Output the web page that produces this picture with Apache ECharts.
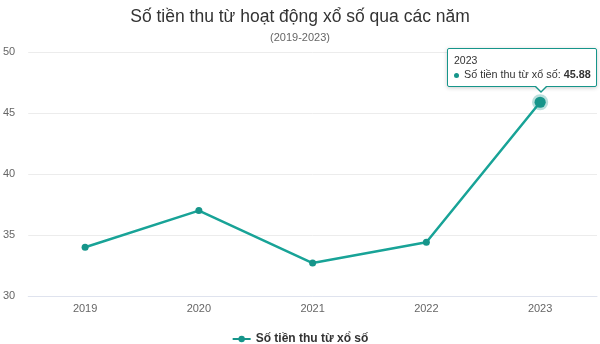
<!DOCTYPE html>
<html><head><meta charset="utf-8">
<script src="https://cdn.jsdelivr.net/npm/echarts@6/dist/echarts.min.js"></script>
<style>html,body{margin:0;padding:0;background:#fff}#c{width:600px;height:344px}</style>
</head><body><div id="c"></div>
<script>
const categories = ['2019','2020','2021','2022','2023'];
const values = [34.0, 37.0, 32.7, 34.4, 45.88];
const seriesName = 'Số tiền thu từ xổ số';
const yTicks = [30, 35, 40, 45, 50];

const color = '#16958a';
const chart = echarts.init(document.getElementById('c'), null, {renderer: 'canvas'});
chart.setOption({
  animation: false,
  textStyle: {fontFamily: 'Arial, "Liberation Sans", sans-serif'},
  title: {
    text: 'Số tiền thu từ hoạt động xổ số qua các năm',
    subtext: '(2019-2023)',
    left: 'center', top: 3,
    itemGap: 6,
    textStyle: {fontSize: 17.5, fontWeight: 'normal', color: '#333'},
    subtextStyle: {fontSize: 11, color: '#666'}
  },
  grid: {left: 27, right: 3, top: 52, bottom: 48},
  tooltip: {
    trigger: 'item',
    alwaysShowContent: true,
    backgroundColor: '#fff',
    borderColor: color,
    borderWidth: 1,
    padding: [5, 6],
    extraCssText: 'box-shadow:0 1px 4px rgba(0,0,0,0.2);border-radius:2px;overflow:visible;width:136px;',
    position: function (pt, params, dom, rect, size) {
      return [pt[0] - 93, pt[1] - 54];
    },
    formatter: function (p) {
      return '<div style="font-size:10.5px;color:#333;line-height:13px;">' + p.name + '</div>' +
        '<div style="font-size:10.8px;color:#333;line-height:14px;white-space:nowrap;"><span style="display:inline-block;width:5px;height:5px;border-radius:3px;background:' + color + ';margin-right:5px;vertical-align:middle"></span>' +
        p.seriesName + ': <b>' + p.value.toFixed(2) + '</b></div>' +
        '<div style="position:absolute;left:86px;bottom:-7px;width:0;height:0;border-left:7px solid transparent;border-right:7px solid transparent;border-top:7px solid ' + color + ';"></div>' +
        '<div style="position:absolute;left:87px;bottom:-5px;width:0;height:0;border-left:6px solid transparent;border-right:6px solid transparent;border-top:6px solid #fff;"></div>';
    }
  },
  legend: {
    top: 328, left: 'center',
    itemWidth: 18, itemHeight: 8,
    textStyle: {fontSize: 12, color: '#333', fontWeight: 'bold'},
    data: [seriesName]
  },
  xAxis: {
    type: 'category',
    data: categories,
    boundaryGap: true,
    axisLine: {lineStyle: {color: '#dfe3ee'}},
    axisTick: {show: false},
    axisLabel: {color: '#666', fontSize: 11, margin: 7}
  },
  yAxis: {
    type: 'value',
    min: yTicks[0], max: yTicks[yTicks.length - 1], interval: 5,
    axisLine: {show: false},
    axisTick: {show: false},
    axisLabel: {color: '#666', fontSize: 11, margin: 13},
    splitLine: {lineStyle: {color: '#ececec'}}
  },
  series: [{
    name: seriesName,
    type: 'line',
    data: values,
    symbol: 'circle',
    symbolSize: 7,
    lineStyle: {color: color, width: 2.5},
    itemStyle: {color: color},
    emphasis: {
      scale: 1.6,
      itemStyle: {color: color, borderColor: 'rgba(22,149,138,0.3)', borderWidth: 5}
    }
  }]
});
setTimeout(function () {
  chart.dispatchAction({type: 'highlight', seriesIndex: 0, dataIndex: 4});
  chart.dispatchAction({type: 'showTip', seriesIndex: 0, dataIndex: 4});
}, 50);
</script></body></html>
